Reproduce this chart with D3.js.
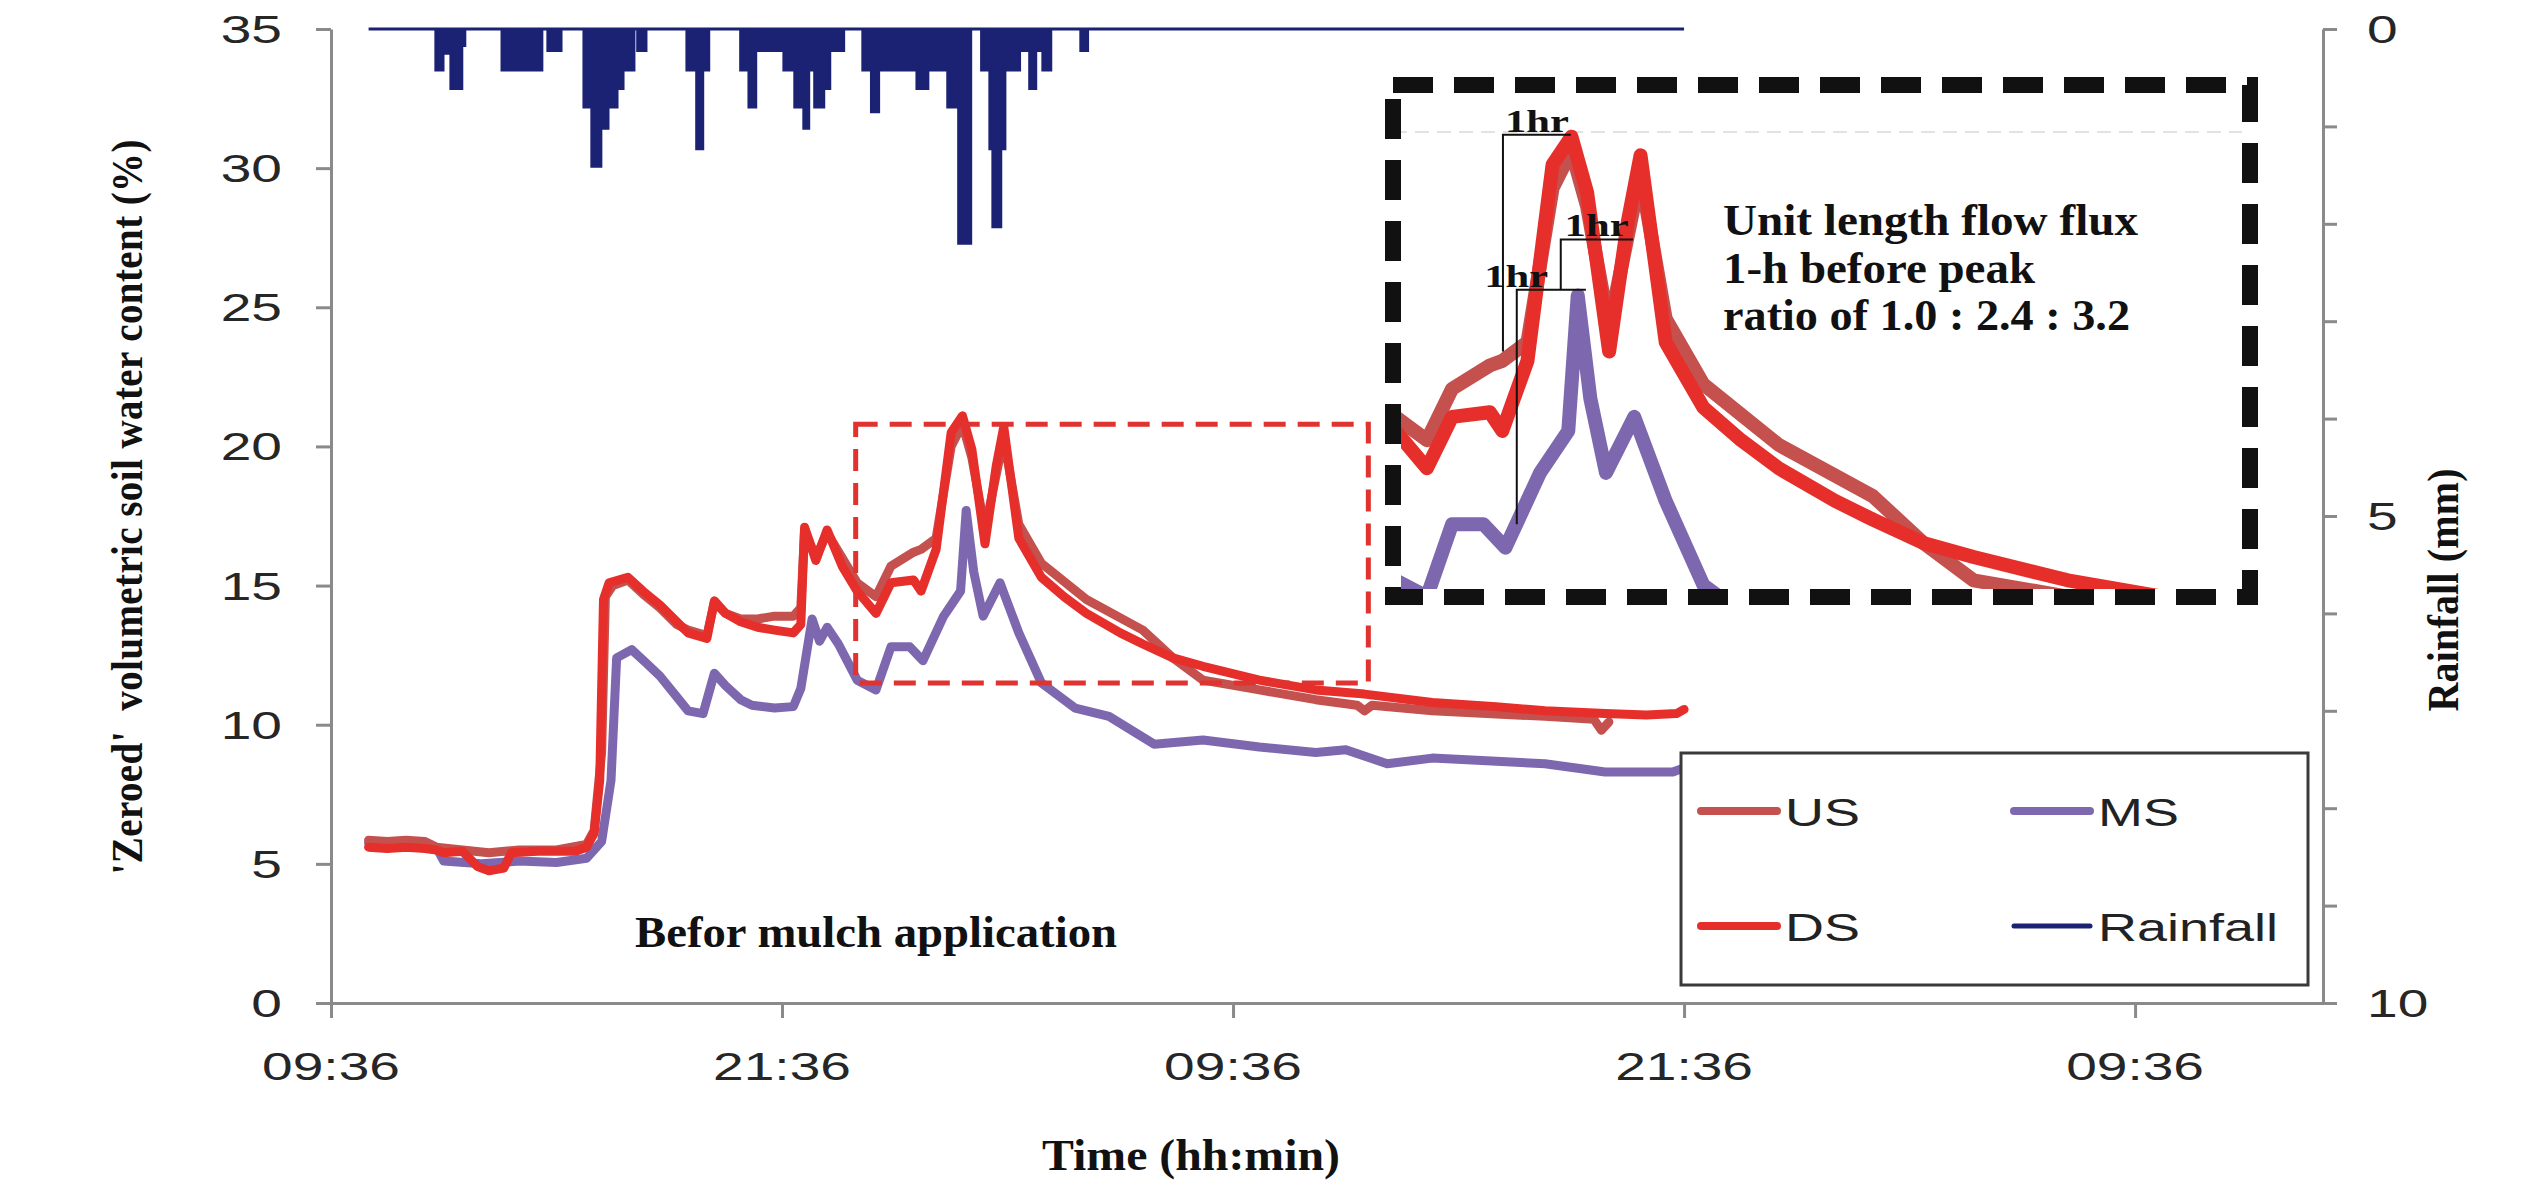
<!DOCTYPE html>
<html><head><meta charset="utf-8">
<script src="https://cdn.jsdelivr.net/npm/d3@7"></script>
<style>body{margin:0;background:#fff}svg{display:block}</style>
</head><body>
<svg id="c" width="2536" height="1190"></svg>
<script>
// ---------- DATA (time in hours after 09:36 of day 1) ----------
const xTickHours = [0, 12, 24, 36, 48];
const xTickLabels = ["09:36", "21:36", "09:36", "21:36", "09:36"];
const yTicks = [0, 5, 10, 15, 20, 25, 30, 35];
const rainTicks = [0,1,2,3,4,5,6,7,8,9,10];
const rainLabels = [0, 5, 10];
const seriesNames = ["US", "MS", "DS", "Rainfall"];

const US = [[1.0,5.85],[1.5,5.8],[2.0,5.85],[2.5,5.8],[2.8,5.6],[3.5,5.5],[4.2,5.4],[5.0,5.5],[6.0,5.5],[6.8,5.7],[7.0,6.2],[7.2,9],[7.3,14.6],[7.5,15.0],[7.9,15.2],[8.3,14.7],[8.75,14.2],[9.2,13.6],[9.5,13.4],[10.0,13.2],[10.2,14.4],[10.5,14.0],[10.9,13.8],[11.35,13.8],[11.8,13.9],[12.3,13.9],[12.5,14.2],[12.6,17.0],[12.9,16.0],[13.2,16.9],[13.6,16.0],[14.0,15.1],[14.5,14.6],[14.9,15.7],[15.5,16.2],[15.7,16.3],[16.1,16.7],[16.5,20.0],[16.8,20.8],[17.05,19.6],[17.4,17.0],[17.7,19.0],[17.9,20.3],[18.3,17.2],[18.9,15.8],[20.1,14.5],[21.6,13.4],[22.4,12.4],[23.2,11.6],[24.7,11.25],[26.2,10.9],[27.3,10.7],[27.5,10.5],[27.7,10.7],[29.3,10.5],[32.3,10.3],[33.6,10.2],[33.8,9.8],[34.0,10.1]];

const MS = [[1.0,5.75],[2.0,5.7],[2.8,5.6],[3.0,5.1],[4.0,5.0],[5.0,5.1],[6.0,5.05],[6.8,5.2],[7.2,5.8],[7.45,8],[7.6,12.4],[8.0,12.7],[8.4,12.2],[8.75,11.75],[9.2,11.0],[9.5,10.5],[9.9,10.4],[10.2,11.85],[10.5,11.4],[10.9,10.9],[11.2,10.7],[11.8,10.6],[12.3,10.65],[12.5,11.3],[12.8,13.8],[13.0,13.0],[13.2,13.5],[13.5,12.9],[14.0,11.6],[14.5,11.25],[14.9,12.8],[15.4,12.8],[15.75,12.3],[16.3,13.9],[16.75,14.8],[16.9,17.7],[17.1,15.5],[17.35,13.9],[17.8,15.1],[18.3,13.3],[18.9,11.5],[19.8,10.6],[20.7,10.3],[21.9,9.3],[23.2,9.45],[24.7,9.2],[26.2,9.0],[27.0,9.1],[28.1,8.6],[29.3,8.8],[32.3,8.6],[33.9,8.3],[35.7,8.3],[36.0,8.45]];

const DS = [[1.0,5.6],[1.5,5.55],[2.0,5.6],[2.5,5.55],[2.8,5.5],[3.0,5.4],[3.5,5.45],[3.9,4.9],[4.2,4.75],[4.6,4.85],[4.8,5.4],[5.5,5.45],[6.0,5.45],[6.5,5.45],[6.8,5.6],[7.0,6.1],[7.15,8],[7.25,14.5],[7.4,15.1],[7.9,15.3],[8.3,14.8],[8.75,14.3],[9.2,13.7],[9.5,13.3],[10.0,13.1],[10.2,14.45],[10.5,14.0],[10.9,13.7],[11.35,13.5],[11.8,13.4],[12.3,13.3],[12.5,13.6],[12.6,17.1],[12.9,15.9],[13.2,17.0],[13.6,15.7],[14.0,14.8],[14.5,14.0],[14.9,15.1],[15.5,15.2],[15.7,14.8],[16.1,16.3],[16.5,20.5],[16.8,21.1],[17.05,19.9],[17.4,16.5],[17.7,19.3],[17.9,20.7],[18.3,16.7],[18.9,15.3],[19.5,14.6],[20.1,14.0],[21.0,13.3],[21.6,12.9],[22.4,12.4],[23.2,12.1],[24.7,11.6],[26.2,11.25],[27.5,11.1],[29.3,10.8],[31.0,10.65],[32.3,10.5],[33.9,10.4],[35.0,10.35],[35.8,10.4],[36.0,10.55]];

// rainfall (mm), step values starting at each time
const RAIN = [[1.0,0],[2.79,0.42],[2.98,0.25],[3.19,0.61],[3.48,0.17],[3.56,0],[4.55,0.42],[5.61,0],[5.77,0.22],[6.12,0],[6.73,0.8],[6.94,1.41],[7.18,1.02],[7.37,0.8],[7.61,0.61],[7.77,0.42],[8.06,0],[8.16,0.22],[8.38,0],[9.47,0.42],[9.73,1.23],[9.89,0.42],[10.05,0],[10.9,0.42],[11.12,0.8],[11.3,0],[11.36,0.22],[12.05,0.42],[12.34,0.8],[12.58,1.02],[12.71,0.42],[12.87,0.8],[13.11,0.61],[13.27,0.22],[13.64,0],[14.15,0.42],[14.38,0.85],[14.57,0.42],[15.59,0.61],[15.88,0.42],[16.41,0.8],[16.7,2.2],[17.02,0],[17.31,0.42],[17.53,1.23],[17.61,2.03],[17.82,1.23],[17.93,0.42],[18.32,0.22],[18.59,0.61],[18.75,0.22],[18.94,0.42],[19.15,0],[19.95,0.22],[20.13,0],[36.0,0]];

// zoom box (hours, %)
const zoomBox = {t0: 13.96, t1: 27.6, v0: 11.5, v1: 20.8};
const insetY = [11.5, 21.2];
// "1hr" brackets in inset data space
const brackets = [
  {t0: 15.71, t1: 16.79, vTop: 21.14, vBot: 16.5, tLab: 16.25},
  {t0: 16.63, t1: 17.78, vTop: 18.9, vBot: 17.84, tLab: 17.2},
  {t0: 15.93, t1: 17.03, vTop: 17.82, vBot: 12.8, tLab: 15.92}
];
const insetLines = ["Unit length flow flux", "1-h before peak", "ratio of 1.0 : 2.4 : 3.2"];

// ---------- STYLE ----------
const COL = {US: "#c4514e", MS: "#7d68b0", DS: "#e62f2b", Rainfall: "#1b2273"};
const AX = "#8a8a8a";
const SANS = "'Liberation Sans', Arial, sans-serif";
const SERIF = "'Liberation Serif', 'Times New Roman', serif";
const SX = 1.45;

const M = {l: 331, r: 2323, t: 29, b: 1003};
const svg = d3.select("#c");
const x = d3.scaleLinear().domain([0, 53]).range([M.l, M.r]);
const y = d3.scaleLinear().domain([0, 35]).range([M.b, M.t]);
const yr = d3.scaleLinear().domain([0, 10]).range([M.t, M.b]);

function text(g, s, px, py, o) {
  o = o || {};
  const t = g.append("text").text(s)
    .attr("font-family", o.family || SANS)
    .attr("font-size", o.size || 38)
    .attr("font-weight", o.weight || "normal")
    .attr("fill", o.fill || "#262626")
    .attr("text-anchor", o.anchor || "start");
  let tr = `translate(${px},${py})`;
  if (o.rot) tr += ` rotate(${o.rot})`;
  if (o.sx || o.sy) tr += ` scale(${o.sx || 1},${o.sy || 1})`;
  t.attr("transform", tr);
  if (o.len) t.attr("textLength", o.len).attr("lengthAdjust", o.adj || "spacingAndGlyphs");
  return t;
}

// ---------- AXES ----------
const axL = svg.append("g").attr("transform", `translate(${M.l},0)`)
  .call(d3.axisLeft(y).tickValues(yTicks).tickSize(15).tickSizeOuter(0).tickFormat(""));
const axB = svg.append("g").attr("transform", `translate(0,${M.b})`)
  .call(d3.axisBottom(x).tickValues(xTickHours).tickSize(15).tickSizeOuter(0).tickFormat(""));
const axR = svg.append("g").attr("transform", `translate(${M.r},0)`)
  .call(d3.axisRight(yr).tickValues(rainTicks).tickSize(14).tickSizeOuter(0).tickFormat(""));
[axL, axB, axR].forEach(a => {
  a.selectAll("path,line").attr("stroke", AX).attr("stroke-width", 3);
});

yTicks.forEach(v => text(svg, v, 282, y(v) + 14, {anchor: "end", sx: SX}));
xTickHours.forEach((h, i) => text(svg, xTickLabels[i], x(h), 1080, {anchor: "middle", sx: SX}));
rainLabels.forEach(v => text(svg, v, 2367, yr(v) + 14, {sx: SX}));

// titles
text(svg, "'Zeroed'  volumetric soil water content (%)", 142, 507,
  {family: SERIF, weight: "bold", size: 39, rot: -90, sy: 1.15, anchor: "middle", len: 735, adj: "spacing", fill: "#111"})
  .attr("xml:space", "preserve");
text(svg, "Rainfall (mm)", 2458, 590,
  {family: SERIF, weight: "bold", size: 40, rot: -90, sy: 1.1, anchor: "middle", len: 243, adj: "spacing", fill: "#111"});
text(svg, "Time (hh:min)", 1042, 1170, {family: SERIF, weight: "bold", size: 44, len: 298, fill: "#111"});

// ---------- RAINFALL ----------
const rainArea = d3.area().curve(d3.curveStepAfter)
  .x(d => x(d[0])).y0(yr(0)).y1(d => yr(d[1]));
svg.append("path").datum(RAIN).attr("d", rainArea)
  .attr("fill", COL.Rainfall).attr("stroke", COL.Rainfall).attr("stroke-width", 3);

// ---------- SOIL WATER LINES ----------
const line = d3.line().x(d => x(d[0])).y(d => y(d[1]));
const series = [["MS", MS], ["US", US], ["DS", DS]];
series.forEach(([n, d]) => {
  svg.append("path").datum(d).attr("d", line).attr("fill", "none")
    .attr("stroke", COL[n]).attr("stroke-width", 9).attr("stroke-linejoin", "round").attr("stroke-linecap", "round");
});

// red dashed zoom box
svg.append("rect")
  .attr("x", x(zoomBox.t0)).attr("y", y(zoomBox.v1))
  .attr("width", x(zoomBox.t1) - x(zoomBox.t0)).attr("height", y(zoomBox.v0) - y(zoomBox.v1))
  .attr("fill", "none").attr("stroke", "#e0322f").attr("stroke-width", 5).attr("stroke-dasharray", "22 12");

text(svg, "Befor mulch application", 635, 947, {family: SERIF, weight: "bold", size: 45, len: 482, fill: "#111"});

// ---------- INSET ----------
const IB = {l: 1393, r: 2250, t: 85, b: 597};
const xi = d3.scaleLinear().domain([zoomBox.t0, zoomBox.t1]).range([IB.l, IB.r]);
const yi = d3.scaleLinear().domain(insetY).range([585, 132]);
svg.append("rect").attr("x", IB.l).attr("y", IB.t).attr("width", IB.r - IB.l).attr("height", IB.b - IB.t).attr("fill", "#fff");
svg.append("clipPath").attr("id", "ic").append("rect")
  .attr("x", IB.l + 8).attr("y", IB.t + 8).attr("width", IB.r - IB.l - 16).attr("height", IB.b - IB.t - 16);
const ig = svg.append("g").attr("clip-path", "url(#ic)");
ig.append("line").attr("x1", IB.l).attr("x2", IB.r).attr("y1", yi(insetY[1])).attr("y2", yi(insetY[1]))
  .attr("stroke", "#e2e2e2").attr("stroke-width", 2).attr("stroke-dasharray", "14 8");
const iline = d3.line().x(d => xi(d[0])).y(d => yi(d[1]));
series.forEach(([n, d]) => {
  ig.append("path").datum(d).attr("d", iline).attr("fill", "none")
    .attr("stroke", COL[n]).attr("stroke-width", 14).attr("stroke-linejoin", "round").attr("stroke-linecap", "round");
});
brackets.forEach(b => {
  const p = d3.path();
  p.moveTo(xi(b.t0), yi(b.vBot)); p.lineTo(xi(b.t0), yi(b.vTop)); p.lineTo(xi(b.t1), yi(b.vTop));
  svg.append("path").attr("d", p.toString()).attr("fill", "none").attr("stroke", "#111").attr("stroke-width", 2);
  text(svg, "1hr", xi(b.tLab), yi(b.vTop) - 3, {family: SERIF, weight: "bold", size: 32, anchor: "middle", len: 64, fill: "#111"});
});
const insetLens = [415, 312, 407];
insetLines.forEach((s, i) => text(svg, s, 1723, 235 + i * 47.5, {family: SERIF, weight: "bold", size: 45, len: insetLens[i], fill: "#111"}));
svg.append("rect").attr("x", IB.l).attr("y", IB.t).attr("width", IB.r - IB.l).attr("height", IB.b - IB.t)
  .attr("fill", "none").attr("stroke", "#111").attr("stroke-width", 16).attr("stroke-dasharray", "40 21");

// ---------- LEGEND ----------
const LG = svg.append("g");
LG.append("rect").attr("x", 1681).attr("y", 753).attr("width", 627).attr("height", 232)
  .attr("fill", "#fff").attr("stroke", "#3a3a3a").attr("stroke-width", 3);
const legPos = [[1701, 811], [2014, 811], [1701, 926], [2014, 926]];
seriesNames.forEach((n, i) => {
  const [lx, ly] = legPos[i];
  LG.append("line").attr("x1", lx).attr("x2", lx + 76).attr("y1", ly).attr("y2", ly)
    .attr("stroke", COL[n]).attr("stroke-width", n === "Rainfall" ? 5 : 8).attr("stroke-linecap", "round");
  text(LG, n, lx + 84, ly + 15, {size: 38, sx: 1.42, fill: "#222"});
});
</script>
</body></html>
